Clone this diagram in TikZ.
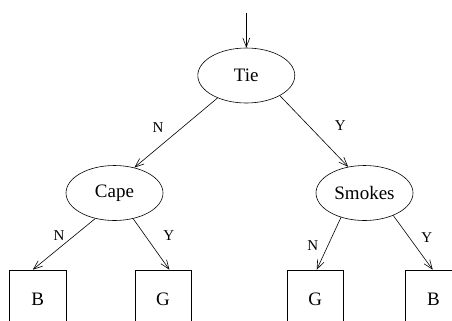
\documentclass[tikz,border=0pt]{standalone}
\usepackage{fontspec}
\setmainfont{Liberation Serif}
\usetikzlibrary{arrows.meta,shapes.geometric}
\begin{document}
\begin{tikzpicture}
			[x=1bp,y=-1bp,line width=0.6bp,
			test/.style={ellipse,draw,inner sep=0pt,
				minimum width=97bp,minimum height=55bp,
				font=\fontsize{19bp}{21bp}\selectfont},
			leaf/.style={rectangle,draw,inner sep=0pt,
				minimum width=56bp,minimum height=58bp,
				font=\fontsize{19bp}{21bp}\selectfont},
			branch/.style={-{Straight Barb[length=9bp,width=7bp]}},
			answer/.style={font=\fontsize{15bp}{17bp}\selectfont,inner sep=0pt}]
			\clip (0,0) rectangle (452,320);
			\coordinate (start) at (246.3,13);
			\node[test] (tie) at (246.3,75.5) {Tie};
			\node[test] (cape) at (114.5,193) {Cape};
			\node[test] (smokes) at (364.5,193) {Smokes};
			\node[leaf] (capeN) at (37.8,299) {B};
			\node[leaf] (capeY) at (162.9,299) {G};
			\node[leaf] (smokesN) at (315.3,299) {G};
			\node[leaf] (smokesY) at (433.5,299) {B};
			\draw[branch] (start) -- (tie.north);
			\draw[branch] (tie.218) -- node[answer,pos=.43,left=18bp] {N} (cape.52);
			\draw[branch] (tie.329) -- node[answer,pos=.42,right=26bp] {Y} (smokes.122);
			\draw[branch] (cape.233) -- node[answer,pos=.33,left=10bp] {N}
				([xshift=-5bp]capeN.north);
			\draw[branch] (cape.306) -- node[answer,pos=.33,right=18bp] {Y}
				([xshift=6.5bp]capeY.north);
			\draw[branch] (smokes.226) -- node[answer,pos=.53,left=9.6bp] {N}
				([xshift=1.4bp]smokesN.north);
			\draw[branch] (smokes.322) -- node[answer,pos=.4,right=12bp] {Y}
				([xshift=-0.8bp]smokesY.north);
		\end{tikzpicture}
\end{document}
